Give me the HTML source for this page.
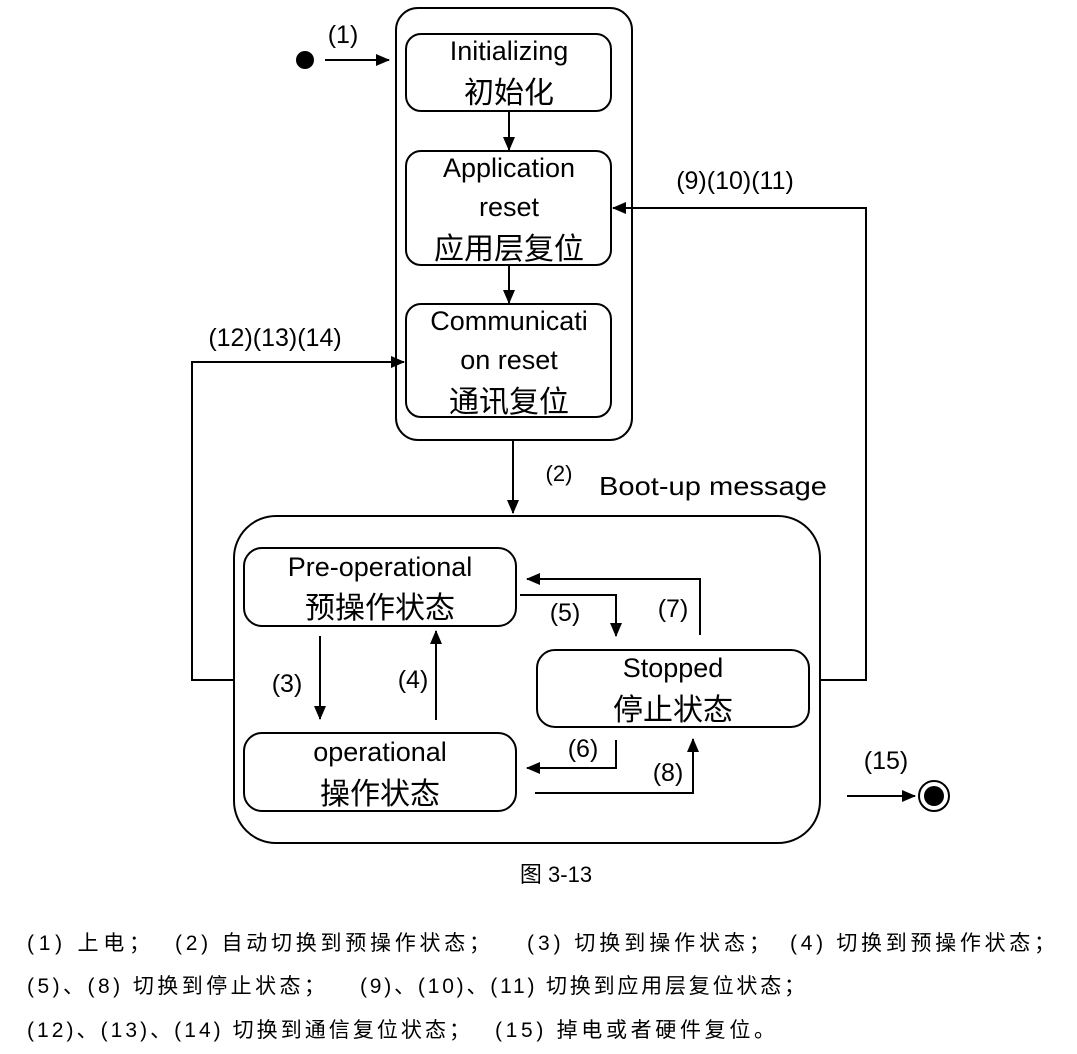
<!DOCTYPE html>
<html><head><meta charset="utf-8"><style>
html,body{margin:0;padding:0;background:#fff;}
svg{display:block;}
text{font-family:"Liberation Sans","Noto Sans CJK SC",sans-serif;fill:#000;}
</style></head><body>
<svg width="1077" height="1054" viewBox="0 0 1077 1054" xmlns="http://www.w3.org/2000/svg">
<defs><marker id="a" markerWidth="14" markerHeight="12" refX="13" refY="6" orient="auto" markerUnits="userSpaceOnUse"><path d="M0,0 L14,6 L0,12 z" fill="#000"/></marker></defs>
<g fill="none" stroke="#000" stroke-width="2">
<rect x="396" y="8" width="236" height="432" rx="22"/>
<rect x="406" y="34" width="205" height="77" rx="15"/>
<rect x="406" y="151" width="205" height="114" rx="15"/>
<rect x="406" y="304" width="205" height="113" rx="15"/>
<rect x="234" y="516" width="586" height="327" rx="42"/>
<rect x="244" y="548" width="272" height="78" rx="18"/>
<rect x="244" y="733" width="272" height="78" rx="18"/>
<rect x="537" y="650" width="272" height="77" rx="18"/>
<line x1="325" y1="60" x2="389" y2="60" marker-end="url(#a)"/>
<line x1="509" y1="111" x2="509" y2="150" marker-end="url(#a)"/>
<line x1="509" y1="265" x2="509" y2="303" marker-end="url(#a)"/>
<line x1="513" y1="440" x2="513" y2="513" marker-end="url(#a)"/>
<line x1="320" y1="636" x2="320" y2="719" marker-end="url(#a)"/>
<line x1="436" y1="720" x2="436" y2="631" marker-end="url(#a)"/>
<polyline points="520,595 616,595 616,636" marker-end="url(#a)"/>
<polyline points="700,635 700,579 527,579" marker-end="url(#a)"/>
<polyline points="616,740 616,768 527,768" marker-end="url(#a)"/>
<polyline points="535,793 693,793 693,739" marker-end="url(#a)"/>
<polyline points="820,680 866,680 866,208 613,208" marker-end="url(#a)"/>
<polyline points="234,680 192,680 192,362 404,362" marker-end="url(#a)"/>
<line x1="847" y1="796" x2="915" y2="796" marker-end="url(#a)"/>
<circle cx="934" cy="796" r="15"/>
</g>
<circle cx="305" cy="60" r="9" fill="#000"/>
<circle cx="934" cy="796" r="10" fill="#000"/>
<g font-size="27" text-anchor="middle">
<text x="509" y="60">Initializing</text>
<text x="509" y="103" font-size="30">初始化</text>
<text x="509" y="177">Application</text>
<text x="509" y="216">reset</text>
<text x="509" y="259" font-size="30">应用层复位</text>
<text x="509" y="330">Communicati</text>
<text x="509" y="369">on reset</text>
<text x="509" y="412" font-size="30">通讯复位</text>
<text x="380" y="576">Pre-operational</text>
<text x="380" y="618" font-size="30">预操作状态</text>
<text x="380" y="761">operational</text>
<text x="380" y="804" font-size="30">操作状态</text>
<text x="673" y="677">Stopped</text>
<text x="673" y="720" font-size="30">停止状态</text>
</g>
<g font-size="25" text-anchor="middle">
<text x="343" y="43">(1)</text>
<text x="559" y="481" font-size="22">(2)</text>
<text x="287" y="692">(3)</text>
<text x="413" y="688">(4)</text>
<text x="565" y="621">(5)</text>
<text x="673" y="617">(7)</text>
<text x="583" y="757">(6)</text>
<text x="668" y="781">(8)</text>
<text x="735" y="189">(9)(10)(11)</text>
<text x="275" y="346">(12)(13)(14)</text>
<text x="886" y="769">(15)</text>
</g>
<text x="599" y="495" font-size="26" textLength="228" lengthAdjust="spacingAndGlyphs">Boot-up message</text>
<text x="556" y="882" font-size="22" text-anchor="middle">图  3-13</text>
<g font-size="21">
<text x="27" y="950" textLength="123" lengthAdjust="spacing">(1) 上电；</text>
<text x="175" y="950" textLength="315" lengthAdjust="spacing">(2) 自动切换到预操作状态；</text>
<text x="527" y="950" textLength="243" lengthAdjust="spacing">(3) 切换到操作状态；</text>
<text x="790" y="950" textLength="265" lengthAdjust="spacing">(4) 切换到预操作状态；</text>
<text x="27" y="993" textLength="298" lengthAdjust="spacing">(5)、(8) 切换到停止状态；</text>
<text x="360" y="993" textLength="445" lengthAdjust="spacing">(9)、(10)、(11) 切换到应用层复位状态；</text>
<text x="27" y="1037" textLength="443" lengthAdjust="spacing">(12)、(13)、(14) 切换到通信复位状态；</text>
<text x="495" y="1037" textLength="280" lengthAdjust="spacing">(15) 掉电或者硬件复位。</text>
</g>
</svg>
</body></html>
